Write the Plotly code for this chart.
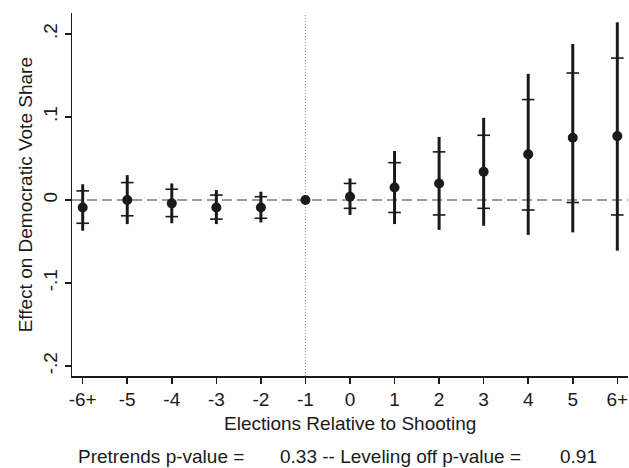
import plotly.graph_objects as go

# ---- data ----
x_labels = ["-6+", "-5", "-4", "-3", "-2", "-1", "0", "1", "2", "3", "4", "5", "6+"]
x_pos = [-6, -5, -4, -3, -2, -1, 0, 1, 2, 3, 4, 5, 6]
estimates = [-0.009, 0.000, -0.004, -0.009, -0.009, 0.000, 0.004, 0.015, 0.020, 0.034, 0.055, 0.075, 0.077]
ci_outer_lo = [-0.037, -0.029, -0.028, -0.029, -0.027, None, -0.018, -0.029, -0.036, -0.031, -0.042, -0.039, -0.061]
ci_outer_hi = [0.019, 0.030, 0.020, 0.012, 0.010, None, 0.026, 0.059, 0.076, 0.099, 0.152, 0.188, 0.214]
ci_inner_lo = [-0.028, -0.019, -0.020, -0.023, -0.022, None, -0.010, -0.015, -0.018, -0.010, -0.012, -0.003, -0.018]
ci_inner_hi = [0.011, 0.021, 0.013, 0.006, 0.004, None, 0.020, 0.045, 0.058, 0.078, 0.121, 0.153, 0.171]
y_tickvals = [-0.2, -0.1, 0, 0.1, 0.2]
y_ticktext = ["-.2", "-.1", "0", ".1", ".2"]
pretrends_p = "0.33"
leveling_p = "0.91"

INK = "#1a1a1a"
FONT = "Liberation Sans, Arial, Helvetica, sans-serif"
FS = 19

err_plus = [(h - e) if h is not None else 0 for h, e in zip(ci_outer_hi, estimates)]
err_minus = [(e - l) if l is not None else 0 for l, e in zip(ci_outer_lo, estimates)]

fig = go.Figure()

# outer CI whiskers + point estimates
fig.add_trace(go.Scatter(
    x=x_pos, y=estimates, mode="markers",
    marker=dict(size=10, color=INK),
    error_y=dict(type="data", array=err_plus, arrayminus=err_minus,
                 symmetric=False, thickness=3, width=0, color=INK),
    showlegend=False, cliponaxis=False, hoverinfo="skip",
))

# inner CI tick marks
inner_x, inner_y = [], []
for xp, lo, hi in zip(x_pos, ci_inner_lo, ci_inner_hi):
    if lo is not None:
        inner_x += [xp, xp]
        inner_y += [lo, hi]
fig.add_trace(go.Scatter(
    x=inner_x, y=inner_y, mode="markers",
    marker=dict(symbol="line-ew", size=9, color=INK, line=dict(color=INK, width=1.6)),
    showlegend=False, cliponaxis=False, hoverinfo="skip",
))

# reference lines
fig.add_shape(type="line", xref="paper", x0=0, x1=1, yref="y", y0=0, y1=0,
              line=dict(color="#9c9c9c", width=2, dash="10px,5px"), layer="below")
fig.add_shape(type="line", xref="x", x0=-1, x1=-1, yref="paper", y0=0, y1=1,
              line=dict(color="#9a9a9a", width=1.2, dash="1px,2px"), layer="below")

fig.update_xaxes(
    range=[-6.24, 6.24], tickvals=x_pos, ticktext=x_labels, automargin=False,
    showline=True, linecolor=INK, linewidth=1.5,
    ticks="outside", ticklen=6, tickwidth=1.5, tickcolor=INK,
    showgrid=False, zeroline=False,
    tickfont=dict(family=FONT, size=FS, color=INK),
)
fig.update_yaxes(
    range=[-0.212, 0.2253], tickvals=y_tickvals, ticktext=y_ticktext, automargin=False,
    tickangle=-90,
    showline=True, linecolor=INK, linewidth=1.5,
    ticks="outside", ticklen=6, tickwidth=1.5, tickcolor=INK,
    showgrid=False, zeroline=False,
    tickfont=dict(family=FONT, size=FS, color=INK),
)

ann_font = dict(family=FONT, size=FS, color=INK)
annotations = [
    dict(text="Elections Relative to Shooting", xref="paper", yref="paper",
         x=0.5, y=-0.132, xanchor="center", yanchor="middle", showarrow=False, font=ann_font),
    dict(text="Effect on Democratic Vote Share", xref="paper", yref="paper",
         x=-0.083, y=0.5, xanchor="center", yanchor="middle", textangle=-90,
         showarrow=False, font=ann_font),
    dict(text="Pretrends p-value =", xref="paper", yref="paper",
         x=0.0072, y=-0.223, xanchor="left", yanchor="middle", showarrow=False, font=ann_font),
    dict(text=pretrends_p + " -- Leveling off p-value =", xref="paper", yref="paper",
         x=0.3705, y=-0.223, xanchor="left", yanchor="middle", showarrow=False, font=ann_font),
    dict(text=leveling_p, xref="paper", yref="paper",
         x=0.874, y=-0.223, xanchor="left", yanchor="middle", showarrow=False, font=ann_font),
]

fig.update_layout(
    width=629, height=468,
    margin=dict(l=72, r=1, t=13, b=92, pad=0),
    paper_bgcolor="white", plot_bgcolor="white",
    annotations=annotations,
    showlegend=False,
    hovermode=False,
)

fig.write_html("out.html",
               config={"displayModeBar": False, "staticPlot": True},
               post_script="document.body.style.margin='0';document.body.style.padding='0';")
